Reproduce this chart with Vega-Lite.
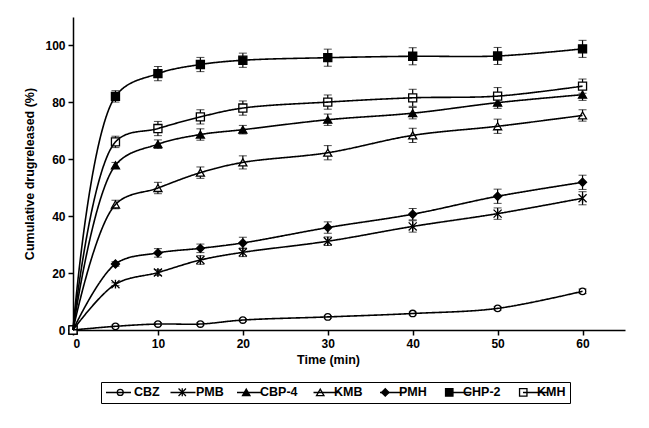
{
  "$schema": "https://vega.github.io/schema/vega-lite/v6.json",
  "autosize": "none",
  "width": 552,
  "height": 313,
  "padding": {"left": 73, "top": 17, "right": 24, "bottom": 98},
  "background": "white",
  "config": {
    "view": {"stroke": null},
    "font": "Liberation Sans",
    "axis": {
      "grid": false, "domainColor": "black", "domainWidth": 1.5, "tickColor": "black", "tickWidth": 1.5, "tickSize": 5,
      "labelFont": "Liberation Sans", "labelFontWeight": "bold", "labelFontSize": 12, "labelColor": "black",
      "titleFont": "Liberation Sans", "titleFontWeight": "bold", "titleFontSize": 12.5, "titleColor": "black"
    }
  },
  "data": {"values": [
    {"t": 0, "v": 0, "e": 0, "s": "CBZ"}, {"t": 5, "v": 1.3, "e": 0.5, "s": "CBZ"}, {"t": 10, "v": 2.1, "e": 0.5, "s": "CBZ"}, {"t": 15, "v": 2.1, "e": 0.5, "s": "CBZ"}, {"t": 20, "v": 3.5, "e": 0.5, "s": "CBZ"}, {"t": 30, "v": 4.6, "e": 0.5, "s": "CBZ"}, {"t": 40, "v": 5.8, "e": 0.5, "s": "CBZ"}, {"t": 50, "v": 7.6, "e": 0.6, "s": "CBZ"}, {"t": 60, "v": 13.6, "e": 0.8, "s": "CBZ"},
    {"t": 0, "v": 0, "e": 0, "s": "PMB"}, {"t": 5, "v": 16.1, "e": 0.5, "s": "PMB"}, {"t": 10, "v": 20.2, "e": 1, "s": "PMB"}, {"t": 15, "v": 24.6, "e": 1.5, "s": "PMB"}, {"t": 20, "v": 27.3, "e": 1.5, "s": "PMB"}, {"t": 30, "v": 31.2, "e": 1.5, "s": "PMB"}, {"t": 40, "v": 36.4, "e": 2, "s": "PMB"}, {"t": 50, "v": 40.9, "e": 2, "s": "PMB"}, {"t": 60, "v": 46.3, "e": 2.3, "s": "PMB"},
    {"t": 0, "v": 0, "e": 0, "s": "CBP-4"}, {"t": 5, "v": 57.9, "e": 1, "s": "CBP-4"}, {"t": 10, "v": 65.3, "e": 1.5, "s": "CBP-4"}, {"t": 15, "v": 68.7, "e": 2, "s": "CBP-4"}, {"t": 20, "v": 70.4, "e": 1.5, "s": "CBP-4"}, {"t": 30, "v": 73.9, "e": 2, "s": "CBP-4"}, {"t": 40, "v": 76.2, "e": 2, "s": "CBP-4"}, {"t": 50, "v": 79.9, "e": 2, "s": "CBP-4"}, {"t": 60, "v": 82.7, "e": 2, "s": "CBP-4"},
    {"t": 0, "v": 0, "e": 0, "s": "KMB"}, {"t": 5, "v": 44.1, "e": 1.5, "s": "KMB"}, {"t": 10, "v": 49.9, "e": 2, "s": "KMB"}, {"t": 15, "v": 55.3, "e": 2, "s": "KMB"}, {"t": 20, "v": 58.9, "e": 2.3, "s": "KMB"}, {"t": 30, "v": 62.3, "e": 2.5, "s": "KMB"}, {"t": 40, "v": 68.4, "e": 2.5, "s": "KMB"}, {"t": 50, "v": 71.6, "e": 2.5, "s": "KMB"}, {"t": 60, "v": 75.4, "e": 2, "s": "KMB"},
    {"t": 0, "v": 0, "e": 0, "s": "PMH"}, {"t": 5, "v": 23.2, "e": 0.8, "s": "PMH"}, {"t": 10, "v": 27.1, "e": 1.5, "s": "PMH"}, {"t": 15, "v": 28.7, "e": 1.5, "s": "PMH"}, {"t": 20, "v": 30.6, "e": 2, "s": "PMH"}, {"t": 30, "v": 36, "e": 2, "s": "PMH"}, {"t": 40, "v": 40.7, "e": 2, "s": "PMH"}, {"t": 50, "v": 47, "e": 2.5, "s": "PMH"}, {"t": 60, "v": 51.9, "e": 2.5, "s": "PMH"},
    {"t": 0, "v": 0, "e": 0, "s": "CHP-2"}, {"t": 5, "v": 82.1, "e": 2, "s": "CHP-2"}, {"t": 10, "v": 90.1, "e": 2.5, "s": "CHP-2"}, {"t": 15, "v": 93.3, "e": 2.5, "s": "CHP-2"}, {"t": 20, "v": 94.8, "e": 2.5, "s": "CHP-2"}, {"t": 30, "v": 95.7, "e": 3, "s": "CHP-2"}, {"t": 40, "v": 96.2, "e": 3, "s": "CHP-2"}, {"t": 50, "v": 96.3, "e": 3, "s": "CHP-2"}, {"t": 60, "v": 98.8, "e": 3, "s": "CHP-2"},
    {"t": 0, "v": 0, "e": 0, "s": "KMH"}, {"t": 5, "v": 66.1, "e": 2, "s": "KMH"}, {"t": 10, "v": 70.8, "e": 2.5, "s": "KMH"}, {"t": 15, "v": 74.9, "e": 2.5, "s": "KMH"}, {"t": 20, "v": 78, "e": 2.5, "s": "KMH"}, {"t": 30, "v": 80.1, "e": 2.5, "s": "KMH"}, {"t": 40, "v": 81.6, "e": 3, "s": "KMH"}, {"t": 50, "v": 82.2, "e": 3, "s": "KMH"}, {"t": 60, "v": 85.7, "e": 2.5, "s": "KMH"}
  ]},
  "encoding": {
    "x": {"field": "t", "type": "quantitative", "scale": {"domain": [0, 65], "nice": false},
      "axis": {"title": "Time (min)", "values": [0, 10, 20, 30, 40, 50, 60], "titleX": 255, "titlePadding": 4, "labelPadding": 3}},
    "y": {"field": "v", "type": "quantitative", "scale": {"domain": [0, 110], "nice": false},
      "axis": {"title": "Cumulative drugreleased (%)", "values": [0, 20, 40, 60, 80, 100], "titlePadding": 8, "labelPadding": 3}}
  },
  "layer": [
    {
      "mark": {"type": "errorbar", "color": "black", "ticks": {"size": 8, "color": "black"}, "rule": {"strokeWidth": 1.2}},
      "encoding": {"yError": {"field": "e"}, "detail": {"field": "s"}}
    },
    {
      "mark": {"type": "point", "filled": true, "strokeWidth": 1.3, "size": 65, "opacity": 1},
      "encoding": {
        "shape": {"field": "s", "type": "nominal",
          "scale": {"domain": ["CBZ", "PMB", "CBP-4", "KMB", "PMH", "CHP-2", "KMH"],
            "range": ["M0.8,0A0.8,0.8,0,1,1,-0.8,0A0.8,0.8,0,1,1,0.8,0", "M-1,-1L1,1M-1,1L1,-1M0,-1.1L0,1.1", "triangle-up", "triangle-up", "diamond", "square", "square"]},
          "legend": {
            "title": null, "orient": "none", "legendX": 28, "legendY": 365, "direction": "horizontal", "columns": 7,
            "strokeColor": "black", "padding": 4, "fillColor": "white",
            "labelFont": "Liberation Sans", "labelFontWeight": "bold", "labelFontSize": 12.5, "labelColor": "black",
            "symbolSize": 55, "symbolStrokeWidth": 1.3, "symbolOffset": 9, "labelOffset": 7.5, "columnPadding": 7
          }},
        "fill": {"field": "s", "type": "nominal",
          "scale": {"domain": ["CBZ", "PMB", "CBP-4", "KMB", "PMH", "CHP-2", "KMH"],
            "range": ["white", "white", "black", "white", "black", "black", "white"]},
          "legend": {"title": null}},
        "stroke": {"field": "s", "type": "nominal",
          "scale": {"domain": ["CBZ", "PMB", "CBP-4", "KMB", "PMH", "CHP-2", "KMH"],
            "range": ["black", "black", "black", "black", "black", "black", "black"]},
          "legend": {"title": null}}
      }
    },
    {
      "mark": {"type": "line", "interpolate": "catmull-rom", "color": "black", "strokeWidth": 1.6},
      "encoding": {
        "detail": {"field": "s"},
        "strokeDash": {"field": "s", "type": "nominal", "sort": ["CBZ", "PMB", "CBP-4", "KMB", "PMH", "CHP-2", "KMH"],
          "scale": {"range": [[1, 0], [1, 0], [1, 0], [1, 0], [1, 0], [1, 0], [1, 0]]},
          "legend": {
            "title": null, "orient": "none", "legendX": 28, "legendY": 358, "direction": "horizontal", "columns": 7,
            "padding": 4, "symbolType": "stroke", "symbolSize": 625, "symbolStrokeWidth": 1.5, "symbolStrokeColor": "black",
            "symbolOffset": 0, "labelOffset": -1.5, "columnPadding": 10.5, "labelOpacity": 0,
            "labelFont": "Liberation Sans", "labelFontWeight": "bold", "labelFontSize": 12.5
          }}
      }
    }
  ]
}
